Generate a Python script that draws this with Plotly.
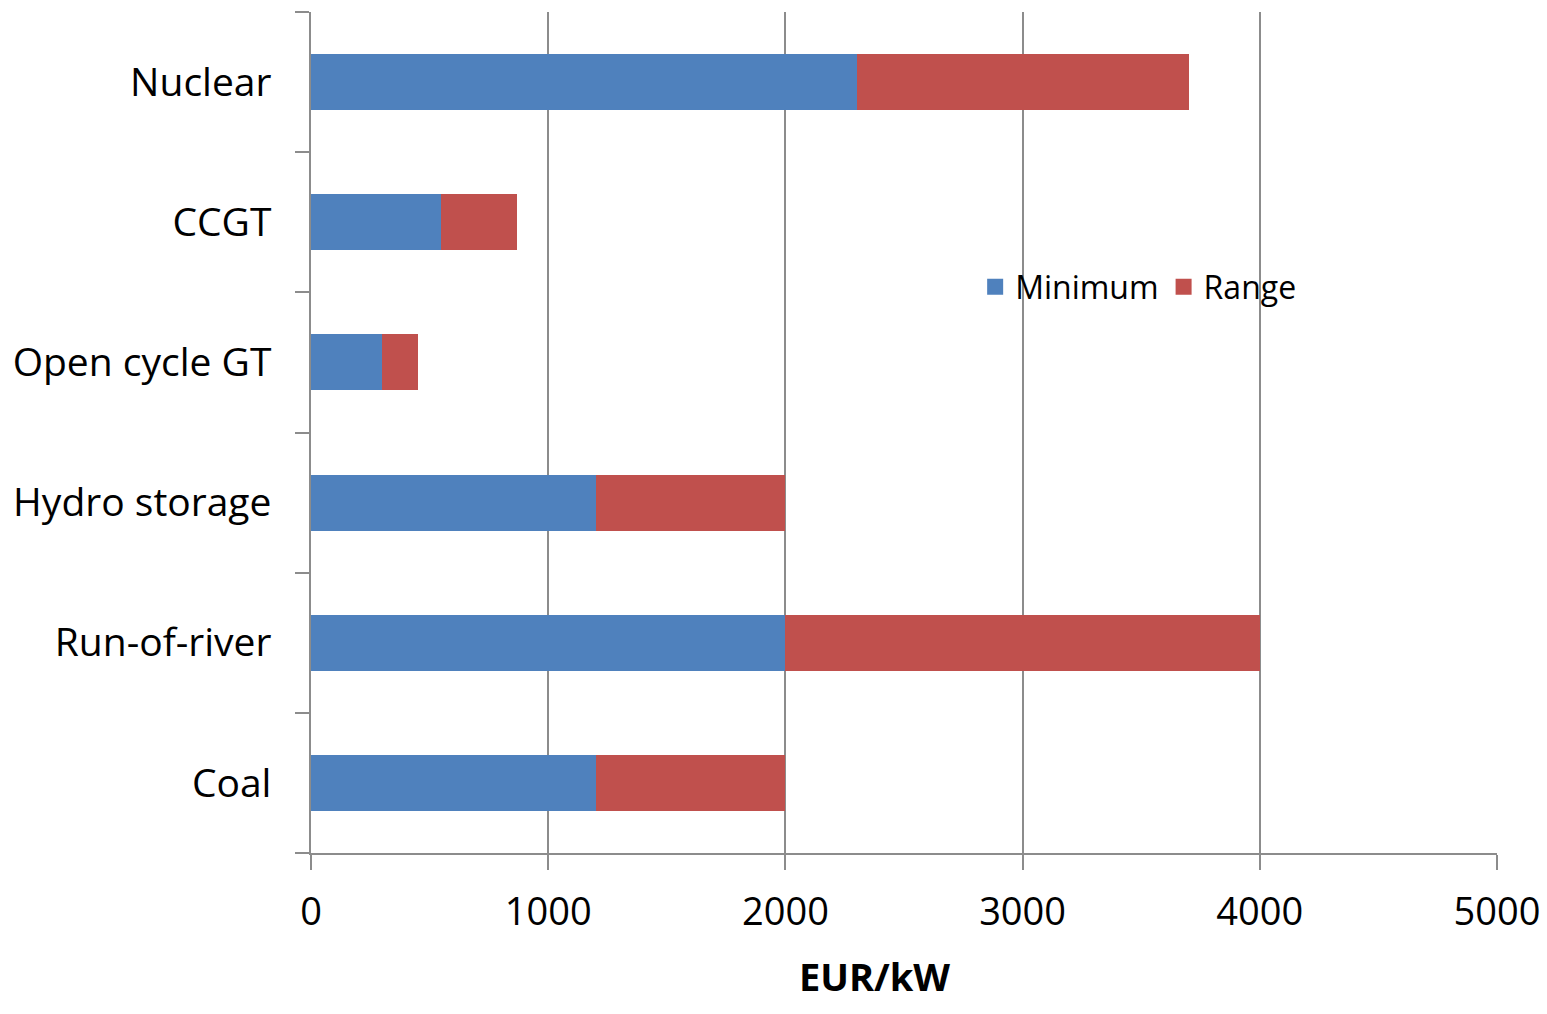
import plotly.graph_objects as go

categories = ["Coal", "Run-of-river", "Hydro storage", "Open cycle GT", "CCGT", "Nuclear"]
minimum = [1200, 2000, 1200, 300, 550, 2300]
range_vals = [800, 2000, 800, 150, 320, 1400]
x_ticks = [0, 1000, 2000, 3000, 4000, 5000]
series_names = ["Minimum", "Range"]
series_colors = ["#4F81BD", "#C0504D"]

FONT = "Open Sans"
fig = go.Figure()
for name, vals, col in zip(series_names, [minimum, range_vals], series_colors):
    fig.add_trace(go.Bar(y=categories, x=vals, name=name, orientation="h",
                         marker=dict(color=col, line=dict(width=0)), showlegend=False))
# legend entries with larger square swatches
for name, col in zip(series_names, series_colors):
    fig.add_trace(go.Scatter(x=[None], y=[None], mode="markers", name=name,
                             marker=dict(symbol="square", size=19, color=col)))

fig.update_layout(
    barmode="stack",
    bargap=0.6,
    width=1539, height=998,
    margin=dict(l=303, r=50, t=4, b=153),
    plot_bgcolor="white", paper_bgcolor="white",
    font=dict(family=FONT, color="#000000"),
    legend=dict(orientation="h", x=0.56, y=0.673, xanchor="left", yanchor="middle",
                font=dict(size=32, family=FONT), bgcolor="rgba(0,0,0,0)",
                traceorder="normal", itemwidth=30),
    xaxis=dict(range=[0, 5000], tickvals=x_ticks, ticktext=[str(v) for v in x_ticks],
               showgrid=True, gridcolor="#8c8c8c", gridwidth=1.5,
               showline=True, linecolor="#8c8c8c", linewidth=1.5,
               ticks="outside", ticklen=15, tickcolor="#8c8c8c", tickwidth=1.5,
               tickfont=dict(size=38, family=FONT), ticklabelstandoff=10,
               zeroline=False),
    yaxis=dict(categoryorder="array", categoryarray=categories,
               showline=True, linecolor="#8c8c8c", linewidth=1.5,
               ticks="outside", ticklen=14, tickcolor="#8c8c8c", tickwidth=1.5,
               tickson="boundaries", showgrid=False,
               tickfont=dict(size=39, family=FONT), ticklabelstandoff=30),
    annotations=[dict(text="<b>EUR/kW</b>", x=0.475, xref="paper", y=-0.179, yref="paper",
                      xanchor="center", yanchor="bottom", showarrow=False,
                      font=dict(size=38, family=FONT))],
)

fig.write_html("out.html")
